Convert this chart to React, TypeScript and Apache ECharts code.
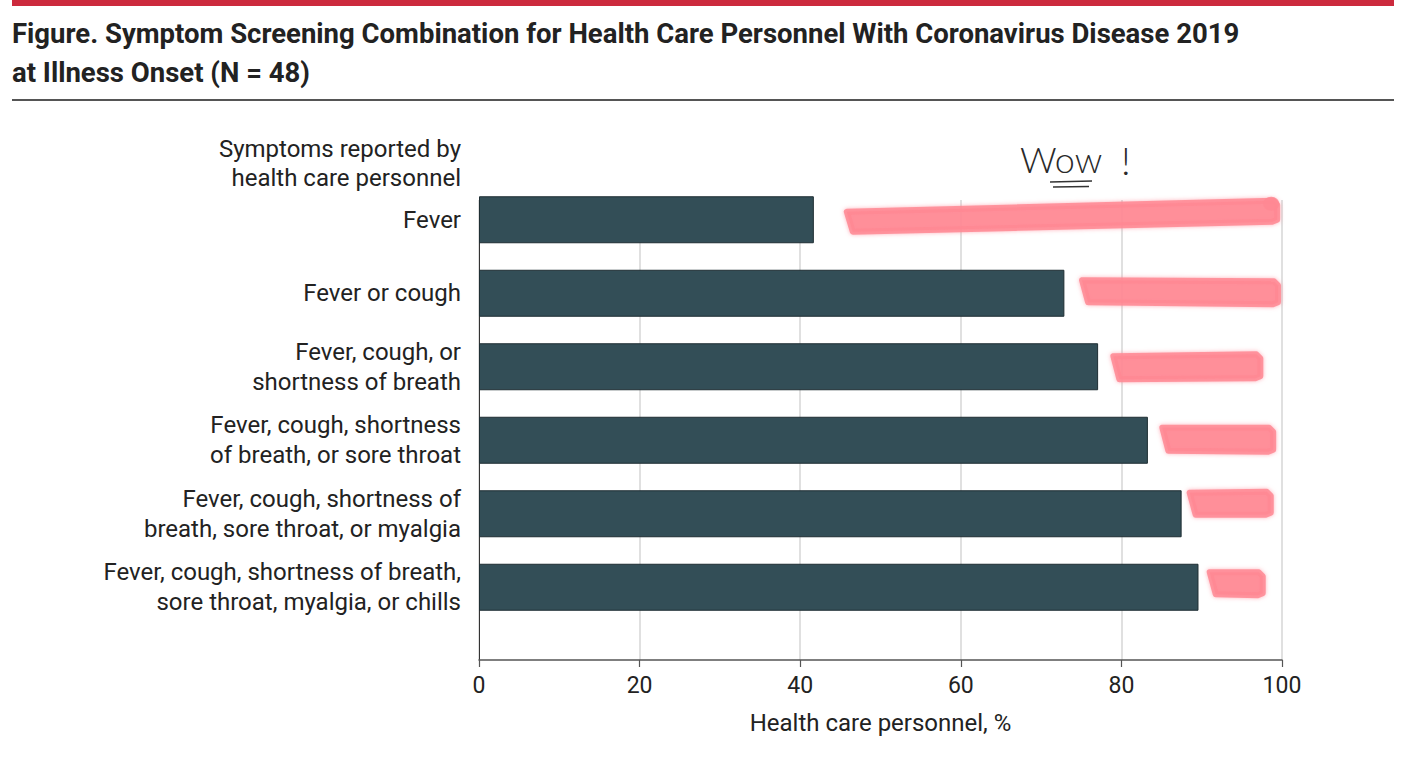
import React, { useEffect, useRef } from "react";
import * as echarts from "echarts";

// ---- data ----
const categories = [
  "Fever",
  "Fever or cough",
  "Fever, cough, or\nshortness of breath",
  "Fever, cough, shortness\nof breath, or sore throat",
  "Fever, cough, shortness of\nbreath, sore throat, or myalgia",
  "Fever, cough, shortness of breath,\nsore throat, myalgia, or chills",
];
const percentValues = [41.7, 72.9, 77.1, 83.3, 87.5, 89.6];
const xTickLabels = ["0", "20", "40", "60", "80", "100"];

// highlighter annotation extents (in % of the x axis)
const highlightStart = [45.8, 75.1, 79.0, 85.1, 88.5, 91.0];
const highlightEnd = [99.4, 99.5, 97.3, 98.9, 98.6, 97.6];

// highlighter shape tweaks (pixel offsets from bar centre, thickness)
const strokeShape = [
  { dyL: 2, dyR: -8, t: 26 },
  { dyL: -2, dyR: 0, t: 28 },
  { dyL: 1, dyR: 0, t: 29 },
  { dyL: -1, dyR: 0, t: 29 },
  { dyL: -10, dyR: -10, t: 28 },
  { dyL: -4, dyR: -3, t: 28 },
];

const FONT = "Roboto, 'Noto Sans', sans-serif";
const HL = "#ff8893";

export default function App() {
  const ref = useRef<HTMLDivElement>(null);

  useEffect(() => {
    document.body.style.margin = "0";
    if (!ref.current) return;
    const chart = echarts.init(ref.current, undefined, { renderer: "svg" });

    const option: any = {
      animation: false,
      backgroundColor: "#ffffff",
      textStyle: { fontFamily: FONT },
      title: [
        {
          text:
            "Figure. Symptom Screening Combination for Health Care Personnel With Coronavirus Disease 2019\nat Illness Onset (N = 48)",
          left: 7,
          top: 9,
          textStyle: {
            fontFamily: FONT,
            fontWeight: "bold",
            fontSize: 27.5,
            lineHeight: 39,
            color: "#222",
          },
        },
        {
          text: "Symptoms reported by\nhealth care personnel",
          left: 456,
          top: 129,
          textAlign: "right",
          textStyle: {
            fontFamily: FONT,
            fontWeight: "normal",
            fontSize: 24,
            lineHeight: 29,
            color: "#222",
          },
        },
      ],
      grid: [
        { left: 479, right: 130, top: 200, bottom: 102 },
        { left: 479, right: 130, top: 183, bottom: 138 },
      ],
      xAxis: [
        {
          gridIndex: 0,
          type: "value",
          min: 0,
          max: 100,
          interval: 20,
          axisLine: { show: true, lineStyle: { color: "#555", width: 1.5 } },
          axisTick: { show: true, length: 7, lineStyle: { color: "#555", width: 1.2 } },
          axisLabel: {
            fontFamily: FONT,
            fontSize: 23,
            margin: 14,
            color: "#222",
            formatter: (v: number) => xTickLabels[Math.round(v / 20)] ?? String(v),
          },
          splitLine: { show: true, lineStyle: { color: "#d6d6d6", width: 1.5 } },
          name: "Health care personnel, %",
          nameLocation: "middle",
          nameGap: 51,
          nameTextStyle: { fontFamily: FONT, fontSize: 24, color: "#222" },
        },
        { gridIndex: 1, type: "value", min: 0, max: 100, show: false },
      ],
      yAxis: [
        {
          gridIndex: 0,
          type: "value",
          min: 0,
          max: 1,
          axisLine: { show: true, lineStyle: { color: "#333", width: 1 } },
          axisTick: { show: false },
          axisLabel: { show: false },
          splitLine: { show: false },
        },
        {
          gridIndex: 1,
          type: "category",
          data: categories,
          inverse: true,
          axisLine: { show: false },
          axisTick: { show: false },
          axisLabel: {
            margin: 18,
            fontFamily: FONT,
            fontSize: 24,
            lineHeight: 30,
            color: "#222",
            align: "right",
          },
          splitLine: { show: false },
        },
      ],
      series: [
        {
          type: "bar",
          xAxisIndex: 1,
          yAxisIndex: 1,
          data: percentValues,
          barWidth: 47,
          itemStyle: { color: "#334e57", borderColor: "#1f2e33", borderWidth: 1 },
        },
      ],
    };

    chart.setOption(option);

    const graphics: any[] = [
      // red top band
      { type: "rect", shape: { x: 12, y: 0, width: 1382, height: 6 }, style: { fill: "#cc2a3d" }, z: 10 },
      // grey rule under title
      { type: "rect", shape: { x: 12, y: 99, width: 1382, height: 2 }, style: { fill: "#555" }, z: 10 },
      // handwritten note
      {
        type: "text",
        x: 1020,
        y: 177,
        style: {
          text: "Wow",
          fontFamily: "Lato, 'DejaVu Sans', sans-serif",
          fontWeight: 300,
          fontSize: 36,
          fill: "#2a2a2a",
          textVerticalAlign: "bottom",
        },
        z: 20,
      },
      {
        type: "text",
        x: 1121,
        y: 179,
        style: {
          text: "!",
          fontFamily: "Lato, 'DejaVu Sans', sans-serif",
          fontWeight: 300,
          fontSize: 38,
          fill: "#2a2a2a",
          textVerticalAlign: "bottom",
        },
        z: 20,
      },
      { type: "line", shape: { x1: 1050, y1: 182, x2: 1092, y2: 181 }, style: { stroke: "#333", lineWidth: 1.6 }, z: 20 },
      { type: "line", shape: { x1: 1053, y1: 187, x2: 1089, y2: 186.5 }, style: { stroke: "#333", lineWidth: 1.6 }, z: 20 },
    ];

    highlightStart.forEach((s, i) => {
      const p0 = chart.convertToPixel({ seriesIndex: 0 }, [s, i]) as number[];
      const p1 = chart.convertToPixel({ seriesIndex: 0 }, [highlightEnd[i], i]) as number[];
      const sh = strokeShape[i];
      const h = sh.t / 2 - 3;
      const x0 = p0[0];
      const x1 = p1[0];
      const yl = p0[1] + sh.dyL;
      const yr = p1[1] + sh.dyR;
      graphics.push({
        type: "polygon",
        shape: {
          points: [
            [x0, yl - h],
            [x1 - 4, yr - h - 1],
            [x1, yr - h + 3],
            [x1, yr + h - 2],
            [x1 - 5, yr + h],
            [x0 + 6, yl + h],
          ],
        },
        style: {
          fill: HL,
          stroke: HL,
          lineWidth: 6,
          lineJoin: "round",
          opacity: 0.85,
          shadowBlur: 4,
          shadowColor: "rgba(255,130,145,0.7)",
        },
        z: 5,
      });
      if (i === 0) {
        graphics.push({
          type: "ellipse",
          shape: { cx: x1 - 6, cy: yr - h + 2, rx: 8, ry: 7 },
          style: { fill: HL, opacity: 0.85 },
          z: 5,
        });
      }
    });

    chart.setOption({ graphic: graphics });

    return () => {
      chart.dispose();
    };
  }, []);

  return <div ref={ref} style={{ width: 1412, height: 762 }} />;
}
